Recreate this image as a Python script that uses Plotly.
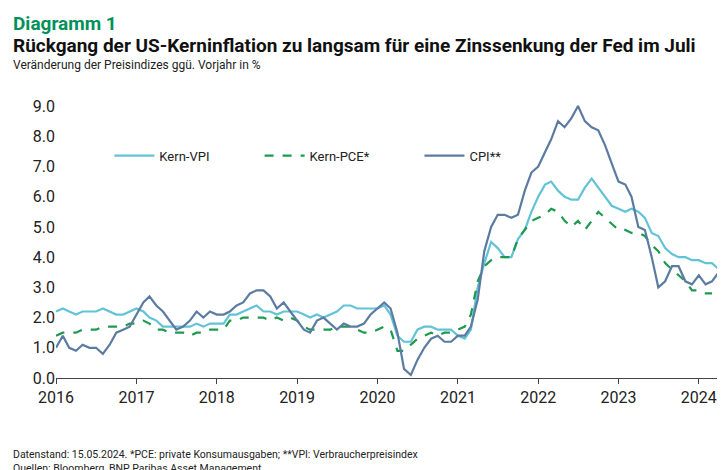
import pandas as pd
import plotly.graph_objects as go

dates = pd.date_range("2016-01-01", "2024-04-01", freq="MS")

kern_vpi = [2.2, 2.3, 2.2, 2.1, 2.2, 2.2, 2.2, 2.3, 2.2, 2.1, 2.1, 2.2,
            2.3, 2.2, 2.0, 1.9, 1.7, 1.7, 1.7, 1.7, 1.7, 1.8, 1.7, 1.8,
            1.8, 1.8, 2.1, 2.1, 2.2, 2.3, 2.4, 2.2, 2.2, 2.1, 2.2, 2.2,
            2.2, 2.1, 2.0, 2.1, 2.0, 2.1, 2.2, 2.4, 2.4, 2.3, 2.3, 2.3,
            2.3, 2.4, 2.1, 1.4, 1.2, 1.2, 1.6, 1.7, 1.7, 1.6, 1.6, 1.6,
            1.4, 1.3, 1.6, 3.0, 3.8, 4.5, 4.3, 4.0, 4.0, 4.6, 4.9, 5.5,
            6.0, 6.4, 6.5, 6.2, 6.0, 5.9, 5.9, 6.3, 6.6, 6.3, 6.0, 5.7,
            5.6, 5.5, 5.6, 5.5, 5.3, 4.8, 4.7, 4.3, 4.1, 4.0, 4.0, 3.9,
            3.9, 3.8, 3.8, 3.6]

kern_pce = [1.4, 1.5, 1.5, 1.5, 1.6, 1.6, 1.6, 1.7, 1.7, 1.7, 1.7, 1.8,
            1.8, 1.9, 1.8, 1.6, 1.6, 1.5, 1.5, 1.5, 1.4, 1.5, 1.5, 1.6,
            1.6, 1.6, 1.9, 1.9, 2.0, 2.0, 2.0, 2.0, 1.9, 2.0, 1.9, 2.0,
            1.9, 1.7, 1.6, 1.6, 1.6, 1.6, 1.7, 1.7, 1.7, 1.6, 1.5, 1.5,
            1.6, 1.7, 1.6, 0.9, 0.9, 1.1, 1.3, 1.4, 1.5, 1.4, 1.5, 1.5,
            1.6, 1.7, 2.1, 3.2, 3.7, 3.9, 4.0, 4.0, 4.0, 4.6, 4.9, 5.2,
            5.3, 5.4, 5.6, 5.5, 5.2, 5.0, 5.2, 4.9, 5.2, 5.5, 5.3, 5.1,
            4.9, 4.9, 4.8, 4.8, 4.7, 4.4, 4.2, 3.8, 3.6, 3.4, 3.2, 2.9,
            2.9, 2.8, 2.8]

cpi = [1.0, 1.4, 1.0, 0.9, 1.1, 1.0, 1.0, 0.8, 1.1, 1.5, 1.6, 1.7,
       2.1, 2.5, 2.7, 2.4, 2.2, 1.9, 1.6, 1.7, 1.9, 2.2, 2.0, 2.2,
       2.1, 2.1, 2.2, 2.4, 2.5, 2.8, 2.9, 2.9, 2.7, 2.3, 2.5, 2.2,
       1.9, 1.6, 1.5, 1.9, 2.0, 1.8, 1.6, 1.8, 1.7, 1.7, 1.8, 2.1,
       2.3, 2.5, 2.3, 1.5, 0.3, 0.1, 0.6, 1.0, 1.3, 1.4, 1.2, 1.2,
       1.4, 1.4, 1.7, 2.6, 4.2, 5.0, 5.4, 5.4, 5.3, 5.4, 6.2, 6.8,
       7.0, 7.5, 7.9, 8.5, 8.3, 8.6, 9.0, 8.5, 8.3, 8.2, 7.7, 7.1,
       6.5, 6.4, 6.0, 5.0, 4.9, 4.0, 3.0, 3.2, 3.7, 3.7, 3.2, 3.1,
       3.4, 3.1, 3.2, 3.5, 3.4][:len(dates)]

font = "Liberation Sans Narrow, Roboto, sans-serif"
pad = "\u00a0" * 14

fig = go.Figure()
fig.add_trace(go.Scatter(x=dates, y=kern_vpi, name="Kern-VPI" + pad, mode="lines",
                         line=dict(color="#62C3D7", width=2.2)))
fig.add_trace(go.Scatter(x=dates[:len(kern_pce)], y=kern_pce, name="Kern-PCE*" + pad, mode="lines",
                         line=dict(color="#1E9A50", width=2.2, dash="dash")))
fig.add_trace(go.Scatter(x=dates, y=cpi, name="CPI**", mode="lines",
                         line=dict(color="#5B7BA1", width=2.2)))

fig.update_layout(
    width=725, height=470,
    margin=dict(l=48, r=10, t=92, b=100),
    paper_bgcolor="white", plot_bgcolor="white",
    font=dict(family=font, size=15, color="#222"),
    showlegend=True,
    legend=dict(orientation="h", x=0.08, y=0.8, xanchor="left", yanchor="middle",
                font=dict(size=13, color="#222"), bgcolor="rgba(0,0,0,0)",
                itemwidth=40),
    xaxis=dict(range=["2016-01-01", "2024-04-20"], showgrid=False, showline=True,
               linecolor="#444", ticks="outside", ticklen=5, tickcolor="#444",
               dtick="M12", tickformat="%Y", tickfont=dict(size=16)),
    yaxis=dict(range=[0, 9.2], showgrid=False, tick0=0, dtick=1, tickformat=".1f",
               zeroline=False, showline=False, tickfont=dict(size=16)),
)

fig.add_annotation(text="<b>Diagramm 1</b>", xref="paper", yref="paper", x=-0.068, y=1.0,
                   yshift=90, showarrow=False, xanchor="left", yanchor="top",
                   font=dict(size=19, color="#00915A"))
fig.add_annotation(text="<b>Rückgang der US-Kerninflation zu langsam für eine Zinssenkung der Fed im Juli</b>",
                   xref="paper", yref="paper", x=-0.068, y=1.0, yshift=68, showarrow=False,
                   xanchor="left", yanchor="top", font=dict(size=19, color="#111"))
fig.add_annotation(text="Veränderung der Preisindizes ggü. Vorjahr in %", xref="paper", yref="paper",
                   x=-0.068, y=1.0, yshift=44, showarrow=False, xanchor="left", yanchor="top",
                   font=dict(size=12, color="#222"))
fig.add_annotation(text="Datenstand: 15.05.2024. *PCE: private Konsumausgaben; **VPI: Verbraucherpreisindex<br>Quellen: Bloomberg, BNP Paribas Asset Management.",
                   xref="paper", yref="paper", x=-0.068, y=0, yshift=-68, showarrow=False,
                   xanchor="left", yanchor="top", align="left",
                   font=dict(size=10.5, color="#222"))

fig.write_html("out.html")
